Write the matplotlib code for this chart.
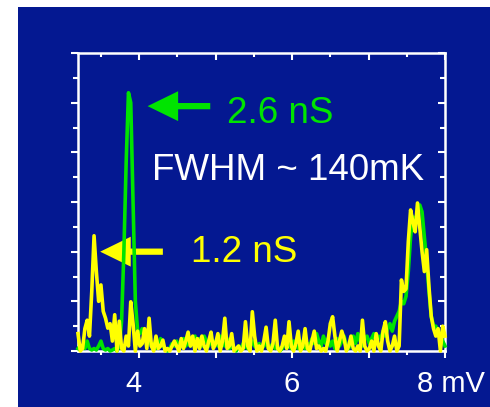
import numpy as np
import matplotlib
matplotlib.use("Agg")
import matplotlib.pyplot as plt
from matplotlib.patches import Rectangle
from matplotlib.transforms import ScaledTranslation

# ---------------- data ----------------
x_start, x_step, n_pts = 3.2, 0.03, 161
bias_mV = np.round(x_start + x_step * np.arange(n_pts), 3)

signal_1p2nS = [
    0.35, 0.0, 0.05, 0.45, 0.62, 0.3, 1.2, 2.32, 1.6, 1.0,
    1.33, 0.8, 0.66, 0.46, 0.55, 0.2, 0.73, 0.0, 0.6, 0.05,
    0.0, 0.3, 0.1, 0.99, 0.55, 0.0, 0.4, 0.1, 0.15, 0.45,
    0.05, 0.66, 0.1, 0.0, 0.3, 0.05, 0.1, 0.22, 0.0, 0.05,
    0.0, 0.1, 0.2, 0.1, 0.0, 0.25, 0.05, 0.2, 0.38, 0.1,
    0.3, 0.0, 0.25, 0.05, 0.3, 0.1, 0.0, 0.2, 0.38, 0.05,
    0.15, 0.35, 0.0, 0.2, 0.66, 0.05, 0.1, 0.35, 0.0, 0.05,
    0.1, 0.0, 0.05, 0.59, 0.1, 0.0, 0.79, 0.3, 0.0, 0.1,
    0.0, 0.2, 0.48, 0.05, 0.0, 0.15, 0.62, 0.05, 0.0, 0.1,
    0.3, 0.05, 0.59, 0.1, 0.0, 0.15, 0.4, 0.0, 0.1, 0.45,
    0.05, 0.0, 0.2, 0.4, 0.05, 0.1, 0.0, 0.05, 0.0, 0.2,
    0.55, 0.69, 0.3, 0.0, 0.2, 0.4, 0.25, 0.0, 0.1, 0.3,
    0.05, 0.0, 0.1, 0.0, 0.62, 0.1, 0.0, 0.05, 0.2, 0.0,
    0.35, 0.1, 0.0, 0.4, 0.59, 0.2, 0.0, 0.1, 0.3, 0.0,
    0.1, 1.43, 1.2, 1.25, 2.2, 2.84, 2.6, 2.4, 2.98, 2.5,
    2.0, 1.6, 2.04, 1.3, 0.7, 0.45, 0.3, 0.45, 0.0, 0.5,
    0.3,
]

signal_2p6nS = [
    0.05, 0.02, 0.1, 0.05, 0.2, 0.05, 0.02, 0.05, 0.02, 0.1,
    0.2, 0.05, 0.02, 0.05, 0.0, 0.02, 0.05, 0.0, 0.1, 0.6,
    2.0, 3.8, 5.2, 5.0, 3.0, 1.0, 0.4, 0.35, 0.45, 0.3,
    0.2, 0.25, 0.1, 0.15, 0.05, 0.1, 0.25, 0.1, 0.05, 0.0,
    0.05, 0.15, 0.1, 0.2, 0.1, 0.15, 0.25, 0.1, 0.2, 0.1,
    0.2, 0.3, 0.15, 0.25, 0.1, 0.3, 0.2, 0.1, 0.25, 0.15,
    0.2, 0.1, 0.3, 0.2, 0.1, 0.25, 0.05, 0.1, 0.05, 0.0,
    0.1, 0.05, 0.15, 0.1, 0.05, 0.1, 0.2, 0.1, 0.05, 0.15,
    0.05, 0.1, 0.2, 0.05, 0.1, 0.15, 0.05, 0.1, 0.0, 0.05,
    0.15, 0.2, 0.1, 0.05, 0.2, 0.1, 0.05, 0.15, 0.2, 0.05,
    0.15, 0.1, 0.25, 0.15, 0.35, 0.2, 0.1, 0.3, 0.15, 0.25,
    0.1, 0.2, 0.05, 0.25, 0.1, 0.2, 0.3, 0.1, 0.05, 0.2,
    0.3, 0.15, 0.35, 0.2, 0.1, 0.25, 0.3, 0.15, 0.25, 0.35,
    0.2, 0.3, 0.25, 0.4, 0.3, 0.45, 0.55, 0.4, 0.6, 0.7,
    0.8, 1.0, 0.95, 1.1, 1.6, 2.3, 2.7, 2.6, 2.8, 2.94,
    2.8, 2.3, 1.8, 1.2, 0.7, 0.5, 0.5, 0.4, 0.3, 0.2,
    0.1,
]

x_tick_major = [4, 5, 6, 7, 8]
x_tick_labels = ["4", "", "6", "", "8 mV"]
x_tick_minor = [3.5, 4.5, 5.5, 6.5, 7.5]

label_green = "2.6 nS"
label_yellow = "1.2 nS"
label_fwhm = "FWHM ~ 140mK"

# ---------------- style ----------------
BG = "#041891"
GREEN = "#00e400"
YELLOW = "#ffff00"
WHITE = "#ffffff"
FONT = "Liberation Sans"

fig = plt.figure(figsize=(4.90, 4.07), dpi=100, facecolor="white")
fig.patches.append(Rectangle((18 / 490, 0), 1 - 18 / 490, 400 / 407,
                             transform=fig.transFigure, facecolor=BG,
                             edgecolor="none", zorder=-10))

ax = fig.add_axes([78 / 490, 56 / 407, (445 - 78) / 490, (351 - 53) / 407])
ax.set_facecolor("none")
ax.set_xlim(3.2, 8.0)
ax.set_ylim(0, 6)

ax.plot(bias_mV, signal_2p6nS, color=GREEN, lw=2.6, zorder=3,
        clip_on=False)
ax.plot(bias_mV, signal_1p2nS, color=YELLOW, lw=2.6, zorder=4,
        clip_on=False)

for sp in ax.spines.values():
    sp.set_color(WHITE)
    sp.set_linewidth(1.8)
    sp.set_zorder(2)

ax.set_xticks(x_tick_major)
ax.set_xticklabels(x_tick_labels)
ax.set_xticks(x_tick_minor, minor=True)
ax.set_yticks(np.arange(0, 7, 1))
ax.set_yticks(np.arange(0.5, 6, 1), minor=True)
ax.set_yticklabels([])

ax.tick_params(axis="x", which="major", direction="out", length=5, width=1.5,
               color=WHITE, labelcolor=WHITE, labelsize=21, pad=9,
               top=True)
ax.tick_params(axis="x", which="minor", direction="out", length=3, width=1.5,
               color=WHITE, top=True)
ax.tick_params(axis="y", which="major", direction="out", length=5, width=1.5,
               color=WHITE, right=True)
ax.tick_params(axis="y", which="minor", direction="out", length=3.5, width=1.5,
               color=WHITE, right=True)
# top / right ticks point inward
for t in ax.xaxis.get_major_ticks() + ax.xaxis.get_minor_ticks():
    t.tick2line.set_marker(3)  # TICKDOWN
for t in ax.yaxis.get_major_ticks() + ax.yaxis.get_minor_ticks():
    t.tick2line.set_marker(0)  # TICKLEFT

shifts = {"4": -6, "8 mV": 6}
for lab in ax.get_xticklabels():
    lab.set_fontfamily(FONT)
    dx = shifts.get(lab.get_text(), 0)
    if dx:
        lab.set_transform(lab.get_transform() +
                          ScaledTranslation(dx / 100, 0, fig.dpi_scale_trans))

# arrows
arrow_kw = dict(arrowstyle="simple,head_length=2.2,head_width=2.15,tail_width=0.45",
                mutation_scale=10, shrinkA=0, shrinkB=0, lw=0)
ax.annotate("", xy=(4.11, 4.93), xytext=(4.93, 4.93),
            arrowprops=dict(color=GREEN, **arrow_kw), zorder=1)
ax.annotate("", xy=(3.49, 2.0), xytext=(4.31, 2.0),
            arrowprops=dict(color=YELLOW, **arrow_kw), zorder=1)

ax.text(5.15, 4.60, label_green, color=GREEN, fontsize=26.5, family=FONT,
        ha="left", va="baseline", zorder=5)
ax.text(4.17, 3.45, label_fwhm, color=WHITE, fontsize=26.5, family=FONT,
        ha="left", va="baseline", zorder=5)
ax.text(4.68, 1.79, label_yellow, color=YELLOW, fontsize=26.5, family=FONT,
        ha="left", va="baseline", zorder=5)

fig.savefig("out.png", dpi=100, facecolor="white")
